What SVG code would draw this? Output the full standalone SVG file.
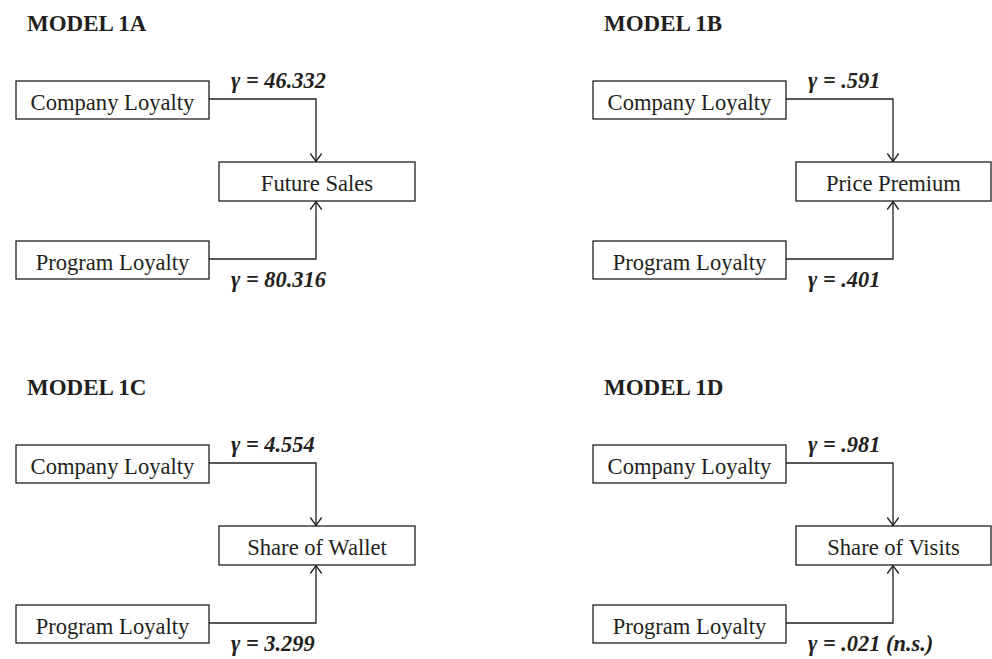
<svg xmlns="http://www.w3.org/2000/svg" width="992" height="659" viewBox="0 0 992 659">
<defs>
<style>
.bg{fill:#ffffff}
.title{font-family:"Liberation Serif","Times New Roman",serif;font-weight:bold;font-size:23px;fill:#231f20}
.box{fill:#ffffff;stroke:#231f20;stroke-width:1.3}
.lbl{font-family:"Liberation Serif","Times New Roman",serif;font-size:22.6px;fill:#231f20;text-anchor:middle}
.g{font-family:"Liberation Serif","Times New Roman",serif;font-size:22.4px;font-weight:bold;font-style:italic;fill:#231f20}
.edge{fill:none;stroke:#231f20;stroke-width:1.3;marker-end:url(#arr)}
</style>
<marker id="arr" viewBox="-10 -8 12 16" markerWidth="12" markerHeight="16" refX="0" refY="0" orient="auto" markerUnits="userSpaceOnUse">
<path d="M-8,-5.7 L0,0 L-8,5.7" fill="none" stroke="#231f20" stroke-width="1.3"/>
</marker>
</defs>
<rect class="bg" x="0" y="0" width="992" height="659"/>

<!-- Model 1A -->
<g id="model1A">
<text class="title" x="27" y="31">MODEL 1A</text>
<g id="A_company"><rect class="box" x="16" y="81" width="193" height="38"/><text class="lbl" x="112.5" y="110">Company Loyalty</text></g>
<g id="A_program"><rect class="box" x="16" y="241" width="193" height="38"/><text class="lbl" x="112.5" y="270">Program Loyalty</text></g>
<g id="A_outcome"><rect class="box" x="219" y="162" width="196" height="39"/><text class="lbl" x="317" y="191">Future Sales</text></g>
<text class="g" x="231" y="88">γ = 46.332</text>
<text class="g" x="231" y="287">γ = 80.316</text>
</g>

<!-- Model 1B -->
<g id="model1B">
<text class="title" x="604" y="31">MODEL 1B</text>
<g id="B_company"><rect class="box" x="593" y="81" width="193" height="38"/><text class="lbl" x="689.5" y="110">Company Loyalty</text></g>
<g id="B_program"><rect class="box" x="593" y="241" width="193" height="38"/><text class="lbl" x="689.5" y="270">Program Loyalty</text></g>
<g id="B_outcome"><rect class="box" x="796" y="162" width="195" height="39"/><text class="lbl" x="893.5" y="191">Price Premium</text></g>
<text class="g" x="808" y="88">γ = .591</text>
<text class="g" x="808" y="287">γ = .401</text>
</g>

<!-- Model 1C -->
<g id="model1C">
<text class="title" x="27" y="395">MODEL 1C</text>
<g id="C_company"><rect class="box" x="16" y="445" width="193" height="38"/><text class="lbl" x="112.5" y="474">Company Loyalty</text></g>
<g id="C_program"><rect class="box" x="16" y="605" width="193" height="38"/><text class="lbl" x="112.5" y="634">Program Loyalty</text></g>
<g id="C_outcome"><rect class="box" x="219" y="526" width="196" height="39"/><text class="lbl" x="317" y="555">Share of Wallet</text></g>
<text class="g" x="231" y="452">γ = 4.554</text>
<text class="g" x="231" y="651">γ = 3.299</text>
</g>

<!-- Model 1D -->
<g id="model1D">
<text class="title" x="604" y="395">MODEL 1D</text>
<g id="D_company"><rect class="box" x="593" y="445" width="193" height="38"/><text class="lbl" x="689.5" y="474">Company Loyalty</text></g>
<g id="D_program"><rect class="box" x="593" y="605" width="193" height="38"/><text class="lbl" x="689.5" y="634">Program Loyalty</text></g>
<g id="D_outcome"><rect class="box" x="796" y="526" width="195" height="39"/><text class="lbl" x="893.5" y="555">Share of Visits</text></g>
<text class="g" x="808" y="452">γ = .981</text>
<text class="g" x="808" y="651">γ = .021 (n.s.)</text>
</g>

<g id="connectors">
<path class="edge" d="M209,99 H316 V161.5"/>
<path class="edge" d="M209,259 H316 V201.5"/>
<path class="edge" d="M786,99 H893 V161.5"/>
<path class="edge" d="M786,259 H893 V201.5"/>
<path class="edge" d="M209,463 H316 V525.5"/>
<path class="edge" d="M209,623 H316 V565.5"/>
<path class="edge" d="M786,463 H893 V525.5"/>
<path class="edge" d="M786,623 H893 V565.5"/>
</g>
</svg>
